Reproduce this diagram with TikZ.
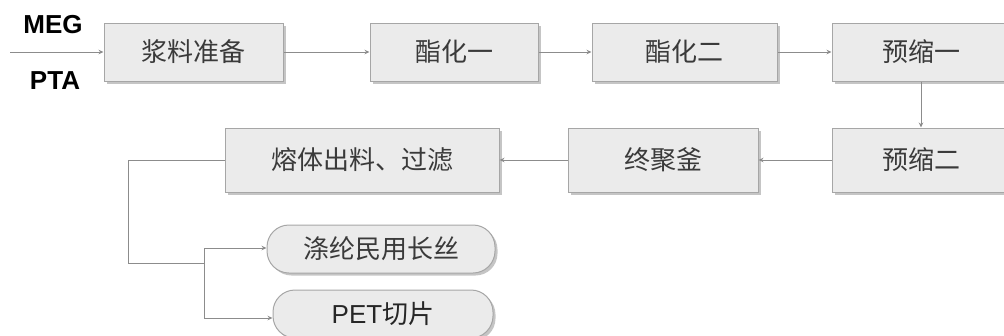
\documentclass[tikz,border=0pt]{standalone}
\usepackage{fontspec}
\setmainfont{Liberation Sans}
\newfontfamily\cjk{Noto Sans CJK SC}
\usetikzlibrary{shadows,arrows.meta}
\definecolor{boxfill}{HTML}{EBEBEB}
\definecolor{boxline}{HTML}{A6A6A6}
\definecolor{lnk}{HTML}{8C8C8C}
\definecolor{txt}{HTML}{3A3A3A}
\begin{document}
\begin{tikzpicture}[x=1pt,y=-1pt,
  proc/.style={draw=boxline, fill=boxfill, line width=1pt, text=txt,
    font=\cjk\fontsize{26}{26}\selectfont, inner sep=0pt,
    drop shadow={shadow xshift=2.5pt, shadow yshift=-2.5pt, fill=black!45, opacity=0.5}},
  prod/.style={proc, rounded corners=22pt},
  conn/.style={draw=lnk, line width=1pt},
  link/.style={conn, -{Stealth[length=5pt,width=4.5pt]}},
  lbl/.style={font=\bfseries\fontsize{26}{26}\selectfont, text=black}]
\useasboundingbox (0,0) rectangle (1004,335);
\clip (0,0) rectangle (1004,335);
% top row
\node[proc, minimum width=179pt, minimum height=58pt] (a) at (193.5,52) {浆料准备};
\node[proc, minimum width=168pt, minimum height=58pt] (b) at (454,52) {酯化一};
\node[proc, minimum width=185pt, minimum height=58pt] (c) at (684.5,52) {酯化二};
\node[proc, minimum width=178pt, minimum height=58pt] (d) at (921,52) {预缩一};
% bottom row
\node[proc, minimum width=178pt, minimum height=64pt] (e) at (921,160) {预缩二};
\node[proc, minimum width=190pt, minimum height=64pt] (f) at (663,160) {终聚釜};
\node[proc, minimum width=274pt, minimum height=64pt] (g) at (362,160) {熔体出料、过滤};
% products
\node[prod, minimum width=228pt, minimum height=48pt] (h) at (381,249) {涤纶民用长丝};
\node[prod, minimum width=220pt, minimum height=48pt, text=black!85, font=\fontsize{26}{26}\selectfont] (p) at (383,314) {PET{\cjk 切片}};
% inputs
\node[lbl] (meg) at (53,25) {MEG};
\node[lbl] (pta) at (55,81) {PTA};
\coordinate (in) at (10,52);
% connectors
\draw[link] (in) -- (a.west);
\draw[link] (a.east) -- (b.west);
\draw[link] (b.east) -- (c.west);
\draw[link] (c.east) -- (d.west);
\draw[link] (d.south) -- (e.north);
\draw[link] (e.west) -- (f.east);
\draw[link] (f.west) -- (g.east);
\coordinate (j1) at (128,263);
\coordinate (j2) at (204,263);
\coordinate (j3) at (204,248);
\coordinate (j4) at (204,318);
\draw[conn] (g.west) -| (j1) -- (j2);
\draw[conn] (j3) -- (j4);
\draw[link] (j3) -- (h.west |- j3);
\draw[link] (j4) -- (j4 -| p.west);
\end{tikzpicture}
\end{document}
